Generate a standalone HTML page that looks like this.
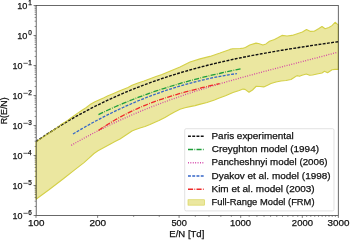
<!DOCTYPE html>
<html><head><meta charset="utf-8"><style>
html,body{margin:0;padding:0;background:#fff;width:350px;height:240px;overflow:hidden}
svg{display:block;will-change:transform}
text{font-family:"Liberation Sans",sans-serif;fill:#111;stroke:#111;stroke-width:0.25px}
</style></head><body>
<svg width="350" height="240" viewBox="0 0 350 240">
<polygon points="36.00,142.08 42.00,137.84 48.00,133.73 54.00,129.74 58.00,127.15 62.00,123.90 67.00,121.00 72.00,117.25 77.00,113.60 82.00,110.20 86.00,107.80 90.00,104.60 95.00,101.70 100.00,99.40 104.00,97.70 108.00,95.80 113.00,93.70 118.00,91.60 123.00,89.50 128.00,87.40 132.00,85.30 138.00,83.00 144.00,81.00 150.00,78.80 156.00,76.50 162.00,74.50 168.00,72.00 174.00,69.50 180.00,67.00 186.00,64.00 190.00,62.00 200.00,58.90 210.00,56.40 220.00,53.10 230.00,49.40 232.50,48.75 240.00,48.50 243.50,48.10 245.40,47.50 249.75,45.00 256.00,43.10 258.50,43.50 262.90,45.10 266.00,43.90 269.50,41.25 274.50,39.40 278.25,37.50 282.00,35.40 287.00,36.00 292.00,35.40 298.00,33.50 302.40,32.00 306.50,29.50 310.50,31.40 314.25,31.20 318.90,28.50 322.00,26.50 325.10,28.75 328.90,27.50 332.00,25.60 335.10,22.25 337.60,24.40 338.30,24.80 338.30,69.40 335.10,69.40 332.00,69.75 327.60,72.75 324.50,71.25 322.00,73.00 317.00,74.00 312.60,75.00 309.50,75.25 306.40,74.00 302.00,75.25 299.50,76.25 297.00,75.60 294.50,77.25 291.00,79.50 286.00,80.50 281.00,81.00 276.00,82.00 271.00,83.50 267.50,85.25 263.75,86.90 260.00,86.50 256.25,86.25 252.50,90.00 249.00,92.25 245.00,89.40 243.00,89.10 239.25,90.50 233.00,92.60 225.50,95.75 218.00,98.60 214.50,100.00 207.00,102.50 199.50,104.40 195.00,105.60 190.00,106.60 185.00,107.70 180.00,109.30 175.00,111.80 170.00,114.60 165.00,117.40 159.00,120.60 155.00,122.20 150.00,124.60 145.00,126.50 140.00,128.00 135.00,129.80 132.00,131.00 126.00,135.00 120.00,139.00 115.00,141.60 110.00,144.30 104.00,147.60 98.00,150.80 94.00,153.50 89.00,158.20 84.00,162.60 74.00,170.40 64.00,178.30 49.00,189.75 36.00,199.20" fill="#ebe7a0" stroke="#d4d048" stroke-width="1.1" stroke-linejoin="round"/>
<polyline points="71.30,145.32 75.80,142.74 80.30,140.21 84.79,137.74 89.29,135.33 93.79,132.97 98.29,130.66 102.79,128.40 107.29,126.19 111.78,124.03 116.28,121.92 120.78,119.86 125.28,117.84 129.78,115.86 134.28,113.93 138.77,112.04 143.27,110.19 147.77,108.38 152.27,106.61 156.77,104.88 161.27,103.18 165.76,101.51 170.26,99.88 174.76,98.29 179.26,96.72 183.76,95.18 188.26,93.68 192.75,92.20 197.25,90.74 201.75,89.32 206.25,87.91 210.75,86.53 215.25,85.18 219.74,83.84 224.24,82.52 228.74,81.22 233.24,79.94 237.74,78.67 242.24,77.42 246.73,76.18 251.23,74.96 255.73,73.74 260.23,72.54 264.73,71.34 269.23,70.16 273.72,68.97 278.22,67.80 282.72,66.63 287.22,65.46 291.72,64.29 296.22,63.13 300.71,61.96 305.21,60.80 309.71,59.62 314.21,58.45 318.71,57.27 323.21,56.09 327.70,54.89 332.20,53.69 336.70,52.48" fill="none" stroke="#d23ca6" stroke-width="1.3" stroke-dasharray="0.9 1.5" />
<polyline points="98.50,130.43 100.55,129.02 102.60,127.64 104.65,126.29 106.70,124.98 108.75,123.69 110.81,122.44 112.86,121.21 114.91,120.01 116.96,118.84 119.01,117.70 121.06,116.58 123.11,115.49 125.16,114.43 127.21,113.39 129.26,112.37 131.31,111.38 133.36,110.41 135.42,109.47 137.47,108.55 139.52,107.65 141.57,106.77 143.62,105.91 145.67,105.07 147.72,104.26 149.77,103.46 151.82,102.67 153.87,101.91 155.92,101.17 157.97,100.44 160.03,99.72 162.08,99.02 164.13,98.34 166.18,97.67 168.23,97.02 170.28,96.38 172.33,95.75 174.38,95.13 176.43,94.53 178.48,93.94 180.53,93.35 182.58,92.78 184.64,92.22 186.69,91.66 188.74,91.12 190.79,90.58 192.84,90.05 194.89,89.52 196.94,89.00 198.99,88.49 201.04,87.98 203.09,87.47 205.14,86.97 207.19,86.48 209.25,85.98 211.30,85.49 213.35,85.00 215.40,84.50 217.45,84.01 219.50,83.52" fill="none" stroke="#ee2a2a" stroke-width="1.3" stroke-dasharray="5.1 1.3 0.8 1.3" />
<polyline points="73.00,134.01 75.78,132.34 78.56,130.69 81.33,129.07 84.11,127.46 86.89,125.89 89.67,124.33 92.45,122.80 95.22,121.29 98.00,119.81 100.78,118.35 103.56,116.91 106.34,115.49 109.11,114.10 111.89,112.73 114.67,111.38 117.45,110.05 120.23,108.75 123.00,107.47 125.78,106.21 128.56,104.97 131.34,103.76 134.12,102.56 136.89,101.39 139.67,100.25 142.45,99.12 145.23,98.02 148.01,96.93 150.78,95.87 153.56,94.84 156.34,93.82 159.12,92.82 161.89,91.85 164.67,90.90 167.45,89.97 170.23,89.06 173.01,88.17 175.78,87.31 178.56,86.46 181.34,85.64 184.12,84.84 186.90,84.06 189.67,83.30 192.45,82.56 195.23,81.84 198.01,81.14 200.79,80.47 203.56,79.81 206.34,79.18 209.12,78.57 211.90,77.97 214.68,77.40 217.45,76.85 220.23,76.32 223.01,75.81 225.79,75.32 228.57,74.85 231.34,74.40 234.12,73.97 236.90,73.56" fill="none" stroke="#3466c8" stroke-width="1.3" stroke-dasharray="2.9 1.35" />
<polyline points="98.50,114.59 100.91,113.42 103.32,112.27 105.73,111.14 108.13,110.02 110.54,108.92 112.95,107.83 115.36,106.76 117.77,105.71 120.18,104.68 122.58,103.66 124.99,102.65 127.40,101.66 129.81,100.69 132.22,99.73 134.63,98.78 137.04,97.85 139.44,96.94 141.85,96.04 144.26,95.15 146.67,94.27 149.08,93.41 151.49,92.57 153.89,91.73 156.30,90.91 158.71,90.10 161.12,89.31 163.53,88.53 165.94,87.76 168.35,87.00 170.75,86.25 173.16,85.52 175.57,84.79 177.98,84.08 180.39,83.38 182.80,82.69 185.21,82.01 187.61,81.35 190.02,80.69 192.43,80.04 194.84,79.40 197.25,78.78 199.66,78.16 202.06,77.55 204.47,76.95 206.88,76.36 209.29,75.78 211.70,75.21 214.11,74.64 216.52,74.09 218.92,73.54 221.33,73.00 223.74,72.47 226.15,71.94 228.56,71.43 230.97,70.92 233.37,70.42 235.78,69.92 238.19,69.43 240.60,68.95" fill="none" stroke="#1f9e3a" stroke-width="1.3" stroke-dasharray="5.1 1.3 0.8 1.3" />
<polyline points="36.00,141.58 41.12,138.06 46.25,134.63 51.37,131.29 56.49,128.05 61.62,124.89 66.74,121.82 71.87,118.83 76.99,115.93 82.11,113.11 87.24,110.37 92.36,107.71 97.48,105.13 102.61,102.62 107.73,100.19 112.86,97.82 117.98,95.53 123.10,93.31 128.23,91.16 133.35,89.07 138.47,87.05 143.60,85.09 148.72,83.19 153.85,81.36 158.97,79.58 164.09,77.85 169.22,76.18 174.34,74.57 179.46,73.01 184.59,71.50 189.71,70.03 194.84,68.62 199.96,67.24 205.08,65.92 210.21,64.63 215.33,63.39 220.45,62.19 225.58,61.02 230.70,59.89 235.83,58.79 240.95,57.73 246.07,56.70 251.20,55.70 256.32,54.72 261.44,53.78 266.57,52.86 271.69,51.96 276.82,51.08 281.94,50.22 287.06,49.39 292.19,48.57 297.31,47.76 302.43,46.97 307.56,46.19 312.68,45.42 317.81,44.66 322.93,43.91 328.05,43.17 333.18,42.43 338.30,41.69" fill="none" stroke="#111" stroke-width="1.4" stroke-dasharray="2.9 1.35" />
<polyline points="36.00,142.08 42.00,137.84 48.00,133.73 54.00,129.74 58.00,127.15 62.00,123.90 67.00,121.00 72.00,117.25" fill="none" stroke="#d4d048" stroke-width="1.0" stroke-opacity="0.85" stroke-linejoin="round"/>
<rect x="36.2" y="5.5" width="302.1" height="210.0" fill="none" stroke="#444" stroke-width="0.8"/>
<line x1="33.6" y1="215.5" x2="36" y2="215.5" stroke="#444" stroke-width="0.7"/>
<line x1="34.6" y1="206.47" x2="36" y2="206.47" stroke="#444" stroke-width="0.6"/>
<line x1="34.6" y1="201.19" x2="36" y2="201.19" stroke="#444" stroke-width="0.6"/>
<line x1="34.6" y1="197.44" x2="36" y2="197.44" stroke="#444" stroke-width="0.6"/>
<line x1="34.6" y1="194.53" x2="36" y2="194.53" stroke="#444" stroke-width="0.6"/>
<line x1="34.6" y1="192.16" x2="36" y2="192.16" stroke="#444" stroke-width="0.6"/>
<line x1="34.6" y1="190.15" x2="36" y2="190.15" stroke="#444" stroke-width="0.6"/>
<line x1="34.6" y1="188.41" x2="36" y2="188.41" stroke="#444" stroke-width="0.6"/>
<line x1="34.6" y1="186.87" x2="36" y2="186.87" stroke="#444" stroke-width="0.6"/>
<line x1="33.6" y1="185.5" x2="36" y2="185.5" stroke="#444" stroke-width="0.7"/>
<line x1="34.6" y1="176.47" x2="36" y2="176.47" stroke="#444" stroke-width="0.6"/>
<line x1="34.6" y1="171.19" x2="36" y2="171.19" stroke="#444" stroke-width="0.6"/>
<line x1="34.6" y1="167.44" x2="36" y2="167.44" stroke="#444" stroke-width="0.6"/>
<line x1="34.6" y1="164.53" x2="36" y2="164.53" stroke="#444" stroke-width="0.6"/>
<line x1="34.6" y1="162.16" x2="36" y2="162.16" stroke="#444" stroke-width="0.6"/>
<line x1="34.6" y1="160.15" x2="36" y2="160.15" stroke="#444" stroke-width="0.6"/>
<line x1="34.6" y1="158.41" x2="36" y2="158.41" stroke="#444" stroke-width="0.6"/>
<line x1="34.6" y1="156.87" x2="36" y2="156.87" stroke="#444" stroke-width="0.6"/>
<line x1="33.6" y1="155.5" x2="36" y2="155.5" stroke="#444" stroke-width="0.7"/>
<line x1="34.6" y1="146.47" x2="36" y2="146.47" stroke="#444" stroke-width="0.6"/>
<line x1="34.6" y1="141.19" x2="36" y2="141.19" stroke="#444" stroke-width="0.6"/>
<line x1="34.6" y1="137.44" x2="36" y2="137.44" stroke="#444" stroke-width="0.6"/>
<line x1="34.6" y1="134.53" x2="36" y2="134.53" stroke="#444" stroke-width="0.6"/>
<line x1="34.6" y1="132.16" x2="36" y2="132.16" stroke="#444" stroke-width="0.6"/>
<line x1="34.6" y1="130.15" x2="36" y2="130.15" stroke="#444" stroke-width="0.6"/>
<line x1="34.6" y1="128.41" x2="36" y2="128.41" stroke="#444" stroke-width="0.6"/>
<line x1="34.6" y1="126.87" x2="36" y2="126.87" stroke="#444" stroke-width="0.6"/>
<line x1="33.6" y1="125.5" x2="36" y2="125.5" stroke="#444" stroke-width="0.7"/>
<line x1="34.6" y1="116.47" x2="36" y2="116.47" stroke="#444" stroke-width="0.6"/>
<line x1="34.6" y1="111.19" x2="36" y2="111.19" stroke="#444" stroke-width="0.6"/>
<line x1="34.6" y1="107.44" x2="36" y2="107.44" stroke="#444" stroke-width="0.6"/>
<line x1="34.6" y1="104.53" x2="36" y2="104.53" stroke="#444" stroke-width="0.6"/>
<line x1="34.6" y1="102.16" x2="36" y2="102.16" stroke="#444" stroke-width="0.6"/>
<line x1="34.6" y1="100.15" x2="36" y2="100.15" stroke="#444" stroke-width="0.6"/>
<line x1="34.6" y1="98.41" x2="36" y2="98.41" stroke="#444" stroke-width="0.6"/>
<line x1="34.6" y1="96.87" x2="36" y2="96.87" stroke="#444" stroke-width="0.6"/>
<line x1="33.6" y1="95.5" x2="36" y2="95.5" stroke="#444" stroke-width="0.7"/>
<line x1="34.6" y1="86.47" x2="36" y2="86.47" stroke="#444" stroke-width="0.6"/>
<line x1="34.6" y1="81.19" x2="36" y2="81.19" stroke="#444" stroke-width="0.6"/>
<line x1="34.6" y1="77.44" x2="36" y2="77.44" stroke="#444" stroke-width="0.6"/>
<line x1="34.6" y1="74.53" x2="36" y2="74.53" stroke="#444" stroke-width="0.6"/>
<line x1="34.6" y1="72.16" x2="36" y2="72.16" stroke="#444" stroke-width="0.6"/>
<line x1="34.6" y1="70.15" x2="36" y2="70.15" stroke="#444" stroke-width="0.6"/>
<line x1="34.6" y1="68.41" x2="36" y2="68.41" stroke="#444" stroke-width="0.6"/>
<line x1="34.6" y1="66.87" x2="36" y2="66.87" stroke="#444" stroke-width="0.6"/>
<line x1="33.6" y1="65.5" x2="36" y2="65.5" stroke="#444" stroke-width="0.7"/>
<line x1="34.6" y1="56.47" x2="36" y2="56.47" stroke="#444" stroke-width="0.6"/>
<line x1="34.6" y1="51.19" x2="36" y2="51.19" stroke="#444" stroke-width="0.6"/>
<line x1="34.6" y1="47.44" x2="36" y2="47.44" stroke="#444" stroke-width="0.6"/>
<line x1="34.6" y1="44.53" x2="36" y2="44.53" stroke="#444" stroke-width="0.6"/>
<line x1="34.6" y1="42.16" x2="36" y2="42.16" stroke="#444" stroke-width="0.6"/>
<line x1="34.6" y1="40.15" x2="36" y2="40.15" stroke="#444" stroke-width="0.6"/>
<line x1="34.6" y1="38.41" x2="36" y2="38.41" stroke="#444" stroke-width="0.6"/>
<line x1="34.6" y1="36.87" x2="36" y2="36.87" stroke="#444" stroke-width="0.6"/>
<line x1="33.6" y1="35.5" x2="36" y2="35.5" stroke="#444" stroke-width="0.7"/>
<line x1="34.6" y1="26.47" x2="36" y2="26.47" stroke="#444" stroke-width="0.6"/>
<line x1="34.6" y1="21.19" x2="36" y2="21.19" stroke="#444" stroke-width="0.6"/>
<line x1="34.6" y1="17.44" x2="36" y2="17.44" stroke="#444" stroke-width="0.6"/>
<line x1="34.6" y1="14.53" x2="36" y2="14.53" stroke="#444" stroke-width="0.6"/>
<line x1="34.6" y1="12.16" x2="36" y2="12.16" stroke="#444" stroke-width="0.6"/>
<line x1="34.6" y1="10.15" x2="36" y2="10.15" stroke="#444" stroke-width="0.6"/>
<line x1="34.6" y1="8.41" x2="36" y2="8.41" stroke="#444" stroke-width="0.6"/>
<line x1="34.6" y1="6.87" x2="36" y2="6.87" stroke="#444" stroke-width="0.6"/>
<line x1="33.6" y1="5.5" x2="36" y2="5.5" stroke="#444" stroke-width="0.7"/>
<line x1="36.00" y1="215.5" x2="36.00" y2="217.9" stroke="#444" stroke-width="0.7"/>
<line x1="97.62" y1="215.5" x2="97.62" y2="217.9" stroke="#444" stroke-width="0.7"/>
<line x1="179.08" y1="215.5" x2="179.08" y2="217.9" stroke="#444" stroke-width="0.7"/>
<line x1="240.70" y1="215.5" x2="240.70" y2="217.9" stroke="#444" stroke-width="0.7"/>
<line x1="302.32" y1="215.5" x2="302.32" y2="217.9" stroke="#444" stroke-width="0.7"/>
<line x1="338.37" y1="215.5" x2="338.37" y2="217.9" stroke="#444" stroke-width="0.7"/>
<line x1="133.67" y1="215.5" x2="133.67" y2="216.9" stroke="#444" stroke-width="0.6"/>
<line x1="159.24" y1="215.5" x2="159.24" y2="216.9" stroke="#444" stroke-width="0.6"/>
<line x1="195.29" y1="215.5" x2="195.29" y2="216.9" stroke="#444" stroke-width="0.6"/>
<line x1="208.99" y1="215.5" x2="208.99" y2="216.9" stroke="#444" stroke-width="0.6"/>
<line x1="220.86" y1="215.5" x2="220.86" y2="216.9" stroke="#444" stroke-width="0.6"/>
<line x1="231.33" y1="215.5" x2="231.33" y2="216.9" stroke="#444" stroke-width="0.6"/>
<line x1="249.17" y1="215.5" x2="249.17" y2="216.9" stroke="#444" stroke-width="0.6"/>
<line x1="256.91" y1="215.5" x2="256.91" y2="216.9" stroke="#444" stroke-width="0.6"/>
<line x1="264.02" y1="215.5" x2="264.02" y2="216.9" stroke="#444" stroke-width="0.6"/>
<line x1="270.61" y1="215.5" x2="270.61" y2="216.9" stroke="#444" stroke-width="0.6"/>
<line x1="276.75" y1="215.5" x2="276.75" y2="216.9" stroke="#444" stroke-width="0.6"/>
<line x1="282.48" y1="215.5" x2="282.48" y2="216.9" stroke="#444" stroke-width="0.6"/>
<line x1="287.87" y1="215.5" x2="287.87" y2="216.9" stroke="#444" stroke-width="0.6"/>
<line x1="292.95" y1="215.5" x2="292.95" y2="216.9" stroke="#444" stroke-width="0.6"/>
<line x1="297.76" y1="215.5" x2="297.76" y2="216.9" stroke="#444" stroke-width="0.6"/>
<line x1="306.66" y1="215.5" x2="306.66" y2="216.9" stroke="#444" stroke-width="0.6"/>
<line x1="310.79" y1="215.5" x2="310.79" y2="216.9" stroke="#444" stroke-width="0.6"/>
<line x1="314.75" y1="215.5" x2="314.75" y2="216.9" stroke="#444" stroke-width="0.6"/>
<line x1="318.53" y1="215.5" x2="318.53" y2="216.9" stroke="#444" stroke-width="0.6"/>
<line x1="322.16" y1="215.5" x2="322.16" y2="216.9" stroke="#444" stroke-width="0.6"/>
<line x1="325.65" y1="215.5" x2="325.65" y2="216.9" stroke="#444" stroke-width="0.6"/>
<line x1="329.00" y1="215.5" x2="329.00" y2="216.9" stroke="#444" stroke-width="0.6"/>
<line x1="332.23" y1="215.5" x2="332.23" y2="216.9" stroke="#444" stroke-width="0.6"/>
<line x1="335.35" y1="215.5" x2="335.35" y2="216.9" stroke="#444" stroke-width="0.6"/>
<text x="12.48" y="218.80" font-size="9.3" textLength="9.95" lengthAdjust="spacingAndGlyphs">10</text>
<text x="28.15" y="215.10" font-size="6.4">6</text>
<line x1="23.4" y1="213.30" x2="27.8" y2="213.30" stroke="#262626" stroke-width="0.75"/>
<text x="12.48" y="188.80" font-size="9.3" textLength="9.95" lengthAdjust="spacingAndGlyphs">10</text>
<text x="28.15" y="185.10" font-size="6.4">5</text>
<line x1="23.4" y1="183.30" x2="27.8" y2="183.30" stroke="#262626" stroke-width="0.75"/>
<text x="12.48" y="158.80" font-size="9.3" textLength="9.95" lengthAdjust="spacingAndGlyphs">10</text>
<text x="28.02" y="155.10" font-size="6.4">4</text>
<line x1="23.4" y1="153.30" x2="27.8" y2="153.30" stroke="#262626" stroke-width="0.75"/>
<text x="12.48" y="128.80" font-size="9.3" textLength="9.95" lengthAdjust="spacingAndGlyphs">10</text>
<text x="28.15" y="125.10" font-size="6.4">3</text>
<line x1="23.4" y1="123.30" x2="27.8" y2="123.30" stroke="#262626" stroke-width="0.75"/>
<text x="12.48" y="98.80" font-size="9.3" textLength="9.95" lengthAdjust="spacingAndGlyphs">10</text>
<text x="28.15" y="95.10" font-size="6.4">2</text>
<line x1="23.4" y1="93.30" x2="27.8" y2="93.30" stroke="#262626" stroke-width="0.75"/>
<text x="12.48" y="68.80" font-size="9.3" textLength="9.95" lengthAdjust="spacingAndGlyphs">10</text>
<text x="28.15" y="65.10" font-size="6.4">1</text>
<line x1="23.4" y1="63.30" x2="27.8" y2="63.30" stroke="#262626" stroke-width="0.75"/>
<text x="17.16" y="38.80" font-size="9.3" textLength="10.18" lengthAdjust="spacingAndGlyphs">10</text>
<text x="28.15" y="35.10" font-size="6.4">0</text>
<text x="17.16" y="8.80" font-size="9.3" textLength="10.18" lengthAdjust="spacingAndGlyphs">10</text>
<text x="28.15" y="5.10" font-size="6.4">1</text>
<text x="28.11" y="226.2" font-size="9.3" textLength="16.41" lengthAdjust="spacingAndGlyphs">100</text>
<text x="89.46" y="226.2" font-size="9.3" textLength="16.66" lengthAdjust="spacingAndGlyphs">200</text>
<text x="171.43" y="226.2" font-size="9.3" textLength="15.36" lengthAdjust="spacingAndGlyphs">500</text>
<text x="230.03" y="226.2" font-size="9.3" textLength="21.11" lengthAdjust="spacingAndGlyphs">1000</text>
<text x="291.89" y="226.2" font-size="9.3" textLength="21.05" lengthAdjust="spacingAndGlyphs">2000</text>
<text x="327.60" y="226.2" font-size="9.3" textLength="21.86" lengthAdjust="spacingAndGlyphs">3000</text>
<text x="169.33" y="237.2" font-size="9.3" textLength="35.02" lengthAdjust="spacingAndGlyphs">E/N [Td]</text>
<text transform="translate(7.4,110.8) rotate(-90)" text-anchor="middle" font-size="8.8">R(E/N)</text>
<rect x="184.7" y="128.7" width="149.3" height="82.20000000000002" rx="1.5" fill="#fff" fill-opacity="0.8" stroke="#d6d6d6" stroke-width="0.7"/>
<line x1="188" y1="136.20" x2="204.5" y2="136.20" stroke="#111" stroke-width="1.35" stroke-dasharray="2.9 1.35" />
<text x="211.50" y="138.90" font-size="9.3" textLength="82.17" lengthAdjust="spacingAndGlyphs">Paris experimental</text>
<line x1="188" y1="149.45" x2="204.5" y2="149.45" stroke="#1f9e3a" stroke-width="1.35" stroke-dasharray="5.1 1.3 0.8 1.3" />
<text x="211.77" y="152.15" font-size="9.3" textLength="107.22" lengthAdjust="spacingAndGlyphs">Creyghton model (1994)</text>
<line x1="188" y1="162.70" x2="204.5" y2="162.70" stroke="#d23ca6" stroke-width="1.35" stroke-dasharray="0.9 1.5" />
<text x="211.51" y="165.40" font-size="9.3" textLength="116.13" lengthAdjust="spacingAndGlyphs">Pancheshnyi model (2006)</text>
<line x1="188" y1="175.95" x2="204.5" y2="175.95" stroke="#3466c8" stroke-width="1.35" stroke-dasharray="2.9 1.35" />
<text x="211.50" y="178.65" font-size="9.3" textLength="119.16" lengthAdjust="spacingAndGlyphs">Dyakov et al. model (1998)</text>
<line x1="188" y1="189.20" x2="204.5" y2="189.20" stroke="#ee2a2a" stroke-width="1.35" stroke-dasharray="5.1 1.3 0.8 1.3" />
<text x="211.49" y="191.90" font-size="9.3" textLength="103.18" lengthAdjust="spacingAndGlyphs">Kim et al. model (2003)</text>
<rect x="188" y="199.75" width="16.5" height="5.4" fill="#ebe7a0" stroke="#d4d048" stroke-width="0.6"/>
<text x="211.54" y="205.15" font-size="9.3" textLength="103.01" lengthAdjust="spacingAndGlyphs">Full-Range Model (FRM)</text>
</svg>
</body></html>
